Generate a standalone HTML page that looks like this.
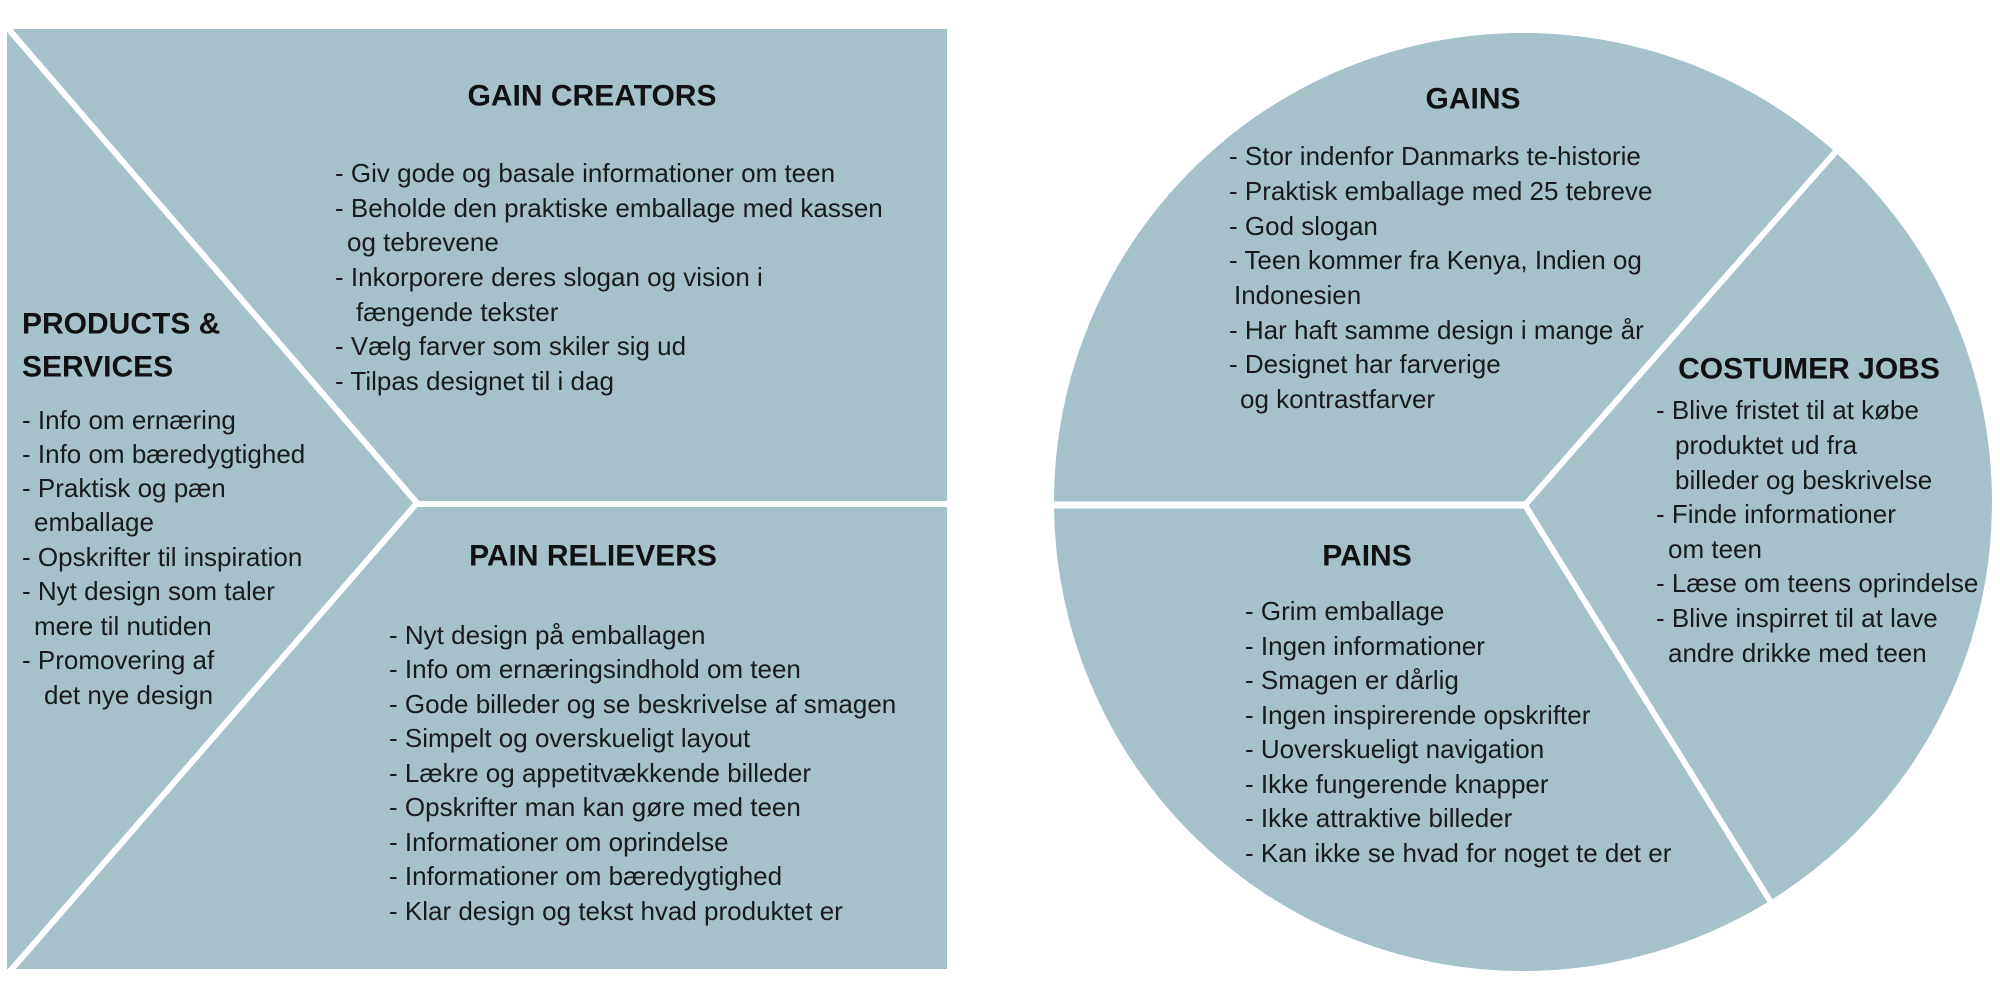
<!DOCTYPE html>
<html><head><meta charset="utf-8"><style>
html,body{margin:0;padding:0;background:#fff;}
svg{display:block;}
text{font-family:"Liberation Sans",sans-serif;fill:#1a1a1a;}
.h{font-weight:bold;font-size:30px;fill:#111;}
.t{font-size:26px;}
</style></head><body>
<svg width="2000" height="1000" viewBox="0 0 2000 1000" xmlns="http://www.w3.org/2000/svg">
<rect width="2000" height="1000" fill="#fff"/>
<rect x="7" y="29" width="940" height="940" fill="#a5c2cb"/>
<polyline points="5,25 417,503 5,977" fill="none" stroke="#fff" stroke-width="6"/>
<line x1="417" y1="504" x2="950" y2="504" stroke="#fff" stroke-width="6"/>
<circle cx="1523" cy="502" r="469" fill="#a5c2cb"/>
<line x1="1040" y1="505" x2="1525" y2="505" stroke="#fff" stroke-width="7"/>
<line x1="1525" y1="505" x2="1860" y2="124" stroke="#fff" stroke-width="6"/>
<line x1="1525" y1="505" x2="1785" y2="925" stroke="#fff" stroke-width="6"/>

<g dominant-baseline="central">
<text class="h" x="592" y="96" text-anchor="middle">GAIN CREATORS</text>
<text class="t" x="335" y="173">- Giv gode og basale informationer om teen</text>
<text class="t" x="335" y="208">- Beholde den praktiske emballage med kassen</text>
<text class="t" x="347" y="242">og tebrevene</text>
<text class="t" x="335" y="277">- Inkorporere deres slogan og vision i</text>
<text class="t" x="356" y="312">fængende tekster</text>
<text class="t" x="335" y="346">- Vælg farver som skiler sig ud</text>
<text class="t" x="335" y="381">- Tilpas designet til i dag</text>

<text class="h" x="22" y="324">PRODUCTS &amp;</text>
<text class="h" x="22" y="367">SERVICES</text>
<text class="t" x="22" y="420">- Info om ernæring</text>
<text class="t" x="22" y="454">- Info om bæredygtighed</text>
<text class="t" x="22" y="488">- Praktisk og pæn</text>
<text class="t" x="34" y="522">emballage</text>
<text class="t" x="22" y="557">- Opskrifter til inspiration</text>
<text class="t" x="22" y="591">- Nyt design som taler</text>
<text class="t" x="34" y="626">mere til nutiden</text>
<text class="t" x="22" y="660">- Promovering af</text>
<text class="t" x="44" y="695">det nye design</text>

<text class="h" x="593" y="556" text-anchor="middle">PAIN RELIEVERS</text>
<text class="t" x="389" y="635">- Nyt design på emballagen</text>
<text class="t" x="389" y="669">- Info om ernæringsindhold om teen</text>
<text class="t" x="389" y="704">- Gode billeder og se beskrivelse af smagen</text>
<text class="t" x="389" y="738">- Simpelt og overskueligt layout</text>
<text class="t" x="389" y="773">- Lækre og appetitvækkende billeder</text>
<text class="t" x="389" y="807">- Opskrifter man kan gøre med teen</text>
<text class="t" x="389" y="842">- Informationer om oprindelse</text>
<text class="t" x="389" y="876">- Informationer om bæredygtighed</text>
<text class="t" x="389" y="911">- Klar design og tekst hvad produktet er</text>

<text class="h" x="1473" y="99" text-anchor="middle">GAINS</text>
<text class="t" x="1229" y="156">- Stor indenfor Danmarks te-historie</text>
<text class="t" x="1229" y="191">- Praktisk emballage med 25 tebreve</text>
<text class="t" x="1229" y="226">- God slogan</text>
<text class="t" x="1229" y="260">- Teen kommer fra Kenya, Indien og</text>
<text class="t" x="1234" y="295">Indonesien</text>
<text class="t" x="1229" y="330">- Har haft samme design i mange år</text>
<text class="t" x="1229" y="364">- Designet har farverige</text>
<text class="t" x="1240" y="399">og kontrastfarver</text>

<text class="h" x="1809" y="369" text-anchor="middle">COSTUMER JOBS</text>
<text class="t" x="1656" y="410">- Blive fristet til at købe</text>
<text class="t" x="1675" y="445">produktet ud fra</text>
<text class="t" x="1675" y="480">billeder og beskrivelse</text>
<text class="t" x="1656" y="514">- Finde informationer</text>
<text class="t" x="1668" y="549">om teen</text>
<text class="t" x="1656" y="583">- Læse om teens oprindelse</text>
<text class="t" x="1656" y="618">- Blive inspirret til at lave</text>
<text class="t" x="1668" y="653">andre drikke med teen</text>

<text class="h" x="1367" y="556" text-anchor="middle">PAINS</text>
<text class="t" x="1245" y="611">- Grim emballage</text>
<text class="t" x="1245" y="646">- Ingen informationer</text>
<text class="t" x="1245" y="680">- Smagen er dårlig</text>
<text class="t" x="1245" y="715">- Ingen inspirerende opskrifter</text>
<text class="t" x="1245" y="749">- Uoverskueligt navigation</text>
<text class="t" x="1245" y="784">- Ikke fungerende knapper</text>
<text class="t" x="1245" y="818">- Ikke attraktive billeder</text>
<text class="t" x="1245" y="853">- Kan ikke se hvad for noget te det er</text>
</g>
</svg>
</body></html>
